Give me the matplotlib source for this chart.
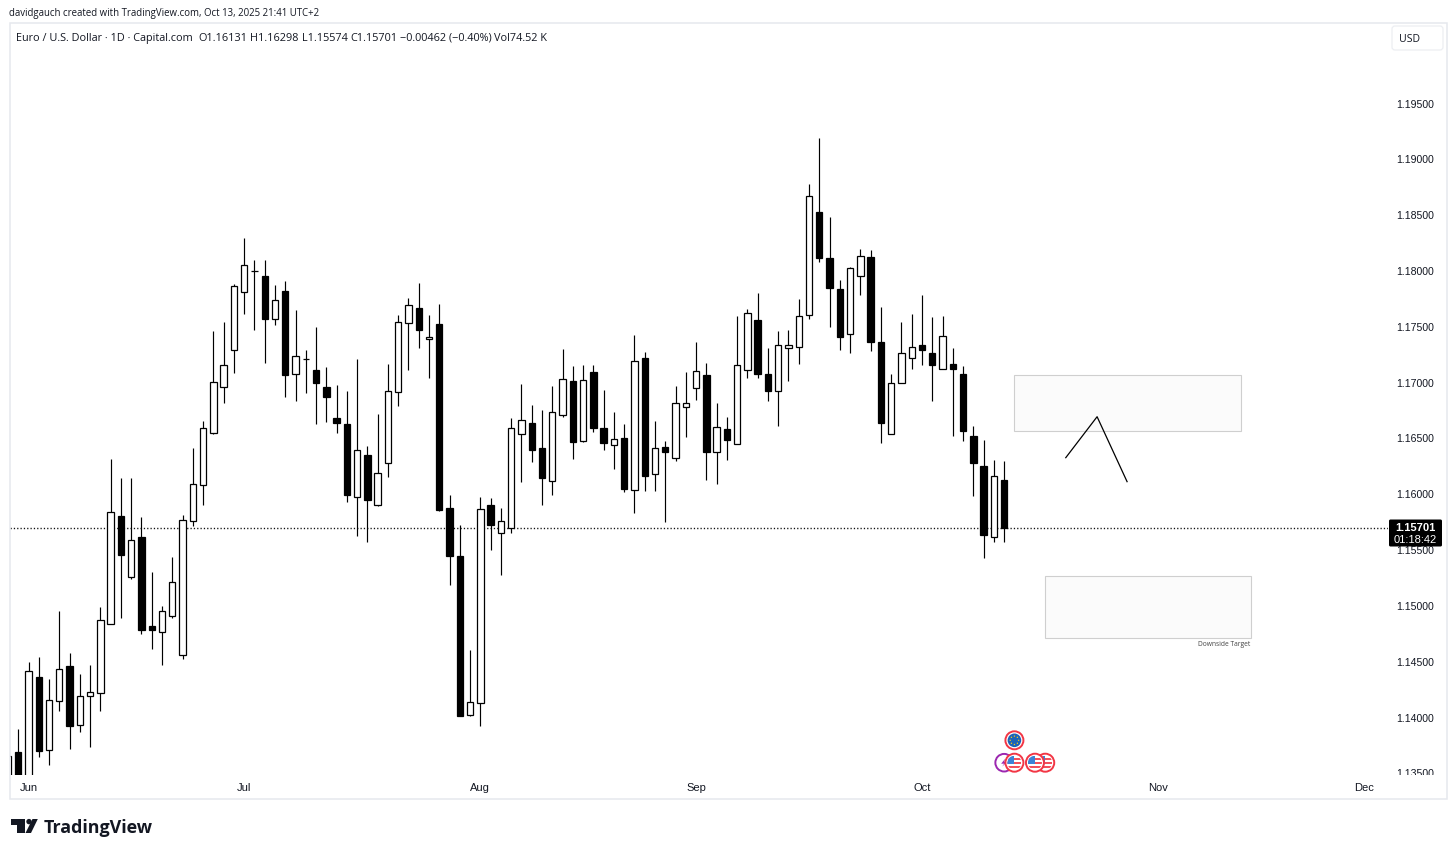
import math
import matplotlib
matplotlib.use("Agg")
import matplotlib.pyplot as plt
from matplotlib.patches import Rectangle, Circle, Polygon, FancyBboxPatch
from matplotlib.transforms import IdentityTransform, Bbox, Affine2D

W, H = 1456, 854
first_bar = -2
opens = [1.13355,1.13693,1.13355,1.14365,1.13707,1.14146,1.1446,1.13931,1.14195,1.14224,
 1.1484,1.1581,1.15264,1.15619,1.14818,1.14768,1.14912,1.14562,1.15759,1.16085,
 1.16548,1.16963,1.17291,1.17817,1.18003,1.17954,1.17573,1.1782,1.17083,1.17214,
 1.17118,1.16966,1.16688,1.16632,1.15974,1.16351,1.15906,1.16282,1.16915,1.17537,
 1.17668,1.17393,1.17531,1.15879,1.15452,1.14021,1.14132,1.15909,1.15655,1.157,
 1.16542,1.16637,1.16413,1.16118,1.16715,1.17014,1.16476,1.171,1.16596,1.16444,
 1.16509,1.1604,1.1722,1.16184,1.16428,1.16325,1.16781,1.16954,1.17071,1.16377,
 1.1659,1.16453,1.17116,1.17564,1.1708,1.1693,1.17309,1.17322,1.17609,1.18531,
 1.18116,1.17841,1.17438,1.17961,1.18129,1.17367,1.16542,1.16996,1.17226,1.1734,
 1.17268,1.17125,1.17172,1.17076,1.16524,1.16256,1.15616,1.16131]
closes = [1.13654,1.13355,1.14415,1.13698,1.14162,1.14437,1.13929,1.14195,1.14233,1.14872,
 1.1584,1.15461,1.15592,1.14789,1.14783,1.14953,1.15216,1.15774,1.16094,1.16596,
 1.17008,1.17163,1.17868,1.18057,1.18,1.17569,1.17746,1.17074,1.17244,1.1721,
 1.17002,1.16874,1.16641,1.15992,1.16399,1.15947,1.16193,1.16928,1.17546,1.17698,
 1.1747,1.17411,1.15864,1.15446,1.14012,1.14137,1.1587,1.15723,1.15759,1.16596,
 1.16664,1.16395,1.16148,1.16739,1.17035,1.16467,1.17026,1.16592,1.16458,1.16494,
 1.16052,1.17196,1.16162,1.16413,1.16377,1.16818,1.1682,1.17107,1.16377,1.16605,
 1.16491,1.17163,1.17626,1.1708,1.1693,1.1734,1.1734,1.17602,1.18675,1.18119,
 1.17847,1.17408,1.1803,1.18137,1.17369,1.16644,1.16996,1.17268,1.17322,1.17298,
 1.1716,1.1742,1.17121,1.16572,1.16285,1.15637,1.16166,1.15701]
highs = [1.13654,1.13902,1.14499,1.14544,1.14347,1.14953,1.1458,1.14395,1.14475,1.14992,
 1.16318,1.16144,1.16151,1.15799,1.15306,1.14998,1.15443,1.15817,1.16417,1.16655,
 1.17462,1.17542,1.17889,1.18298,1.18101,1.18101,1.17877,1.1791,1.17656,1.17295,
 1.17501,1.17145,1.16984,1.16928,1.17214,1.16431,1.16718,1.17172,1.17605,1.17757,
 1.17892,1.17611,1.17707,1.15992,1.15727,1.1461,1.15978,1.15969,1.15879,1.16688,
 1.1699,1.16799,1.1676,1.16972,1.173,1.17152,1.17157,1.17163,1.16937,1.16742,
 1.16632,1.17432,1.17277,1.16655,1.1648,1.16972,1.17094,1.17367,1.17178,1.1682,
 1.16695,1.17596,1.17665,1.17806,1.17309,1.17462,1.17477,1.17748,1.18785,1.19194,
 1.18483,1.17922,1.18035,1.18203,1.18189,1.17677,1.1708,1.17548,1.1762,1.17788,
 1.17591,1.17596,1.17309,1.17148,1.16614,1.16488,1.16312,1.16298]
lows = [1.13355,1.133,1.133,1.13648,1.13576,1.14057,1.1372,1.13872,1.13734,1.14057,
 1.1484,1.1489,1.15243,1.1475,1.14612,1.14469,1.14894,1.14526,1.15721,1.15906,
 1.16539,1.16816,1.17089,1.17614,1.1747,1.17175,1.17519,1.1687,1.16834,1.16906,
 1.16635,1.1665,1.16548,1.15929,1.15628,1.15571,1.15894,1.16153,1.16793,1.17112,
 1.17313,1.1704,1.15849,1.15192,1.14012,1.14012,1.13922,1.15499,1.15282,1.15655,
 1.16115,1.16288,1.15909,1.15996,1.16691,1.16315,1.1647,1.16563,1.16395,1.16225,
 1.16019,1.15834,1.16034,1.16028,1.1575,1.16297,1.16512,1.16843,1.1613,1.16091,
 1.16306,1.16453,1.1704,1.1704,1.16834,1.1661,1.17017,1.17166,1.17575,1.18086,
 1.17504,1.17295,1.17264,1.1779,1.17289,1.16458,1.16542,1.16996,1.17127,1.1716,
 1.16841,1.17125,1.16521,1.16482,1.15987,1.15428,1.15571,1.15574]

price_ticks = [1.135,1.14,1.145,1.15,1.155,1.16,1.165,1.17,1.175,1.18,1.185,1.19,1.195]
month_ticks = [0,21,44,65,87,110,130]
month_labels = ["Jun","Jul","Aug","Sep","Oct","Nov","Dec"]
last_price = 1.15701
countdown = "01:18:42"
attribution = "davidgauch created with TradingView.com, Oct 13, 2025 21:41 UTC+2"
legend_parts = ["Euro / U.S. Dollar · 1D · Capital.com","O1.16131","H1.16298","L1.15574","C1.15701","−0.00462 (−0.40%)","Vol74.52 K"]
legend_left = [16,198,250,302,350,400,494]
zones = [(96,118.06,1.16572,1.17073),(99,119.04,1.14717,1.15272)]
zone_note = "Downside Target"
path_x = [101.0,104.05,106.97]
path_y = [1.1633,1.16697,1.16115]
event_bars = [(96,"eu",1),(95,"bolt",0),(99,"us",0),(98,"us",0),(96,"us",0)]

TXT = "#131722"
BORDER = "#e6e8ee"
plt.rcParams['font.family'] = ['Liberation Sans','DejaVu Sans']
fig = plt.figure(figsize=(W/100,H/100),dpi=100,facecolor="white")
L,R,T,B = 10,1388,25,775.5
ax = fig.add_axes([L/W,1-B/H,(R-L)/W,(B-T)/H])
ax.set_xlim((L-28.5)/10.27,(R-28.5)/10.27)
ax.set_ylim(1.19-(B-160.7)/11160,1.19+(160.7-T)/11160)
ax.patch.set_alpha(0)
for s in ax.spines.values():
    s.set_visible(False)

xs = list(range(first_bar,first_bar+len(opens)))
ax.vlines(xs,lows,highs,color="black",lw=0.85,zorder=2)
for x,o,c in zip(xs,opens,closes):
    up = c>=o
    ax.bar(x,abs(c-o),bottom=min(o,c),width=0.62,facecolor="white" if up else "black",
           edgecolor="black",lw=0.9,zorder=3)

for x0,x1,y0,y1 in zones:
    ax.add_patch(Rectangle((x0,y0),x1-x0,y1-y0,facecolor="#fbfbfb",edgecolor="#cfcfcf",lw=0.8,zorder=1))
ax.text(zones[1][1]-0.1,zones[1][2]-0.0002,zone_note,fontsize=4.75,color="#444444",ha="right",va="top",family=["Open Sans"])
ax.plot(path_x,path_y,color="black",lw=0.9,zorder=4)
ax.axhline(last_price,color="#111111",lw=1.0,ls=(0,(0.9,1.5)),zorder=1)

ax.yaxis.tick_right()
ax.set_yticks(price_ticks)
ax.set_yticklabels([f"{p:.5f}" for p in price_ticks],fontsize=7.6,color=TXT)
ax.tick_params(axis="y",length=0,pad=6)
clip = Bbox([[L,H-B-0.5],[W,H-T]])
for lab in ax.get_yticklabels():
    lab.set_clip_on(True)
    lab.set_clip_box(clip)
    lab.set_transform(lab.get_transform() + Affine2D().translate(0,1.2))
ax.set_xticks(month_ticks)
ax.set_xticklabels(month_labels,fontsize=8,color=TXT)
ax.tick_params(axis="x",length=0,pad=5.7)

def px(x,y):
    return x,H-y
idt = IdentityTransform()

fig.add_artist(Rectangle(px(9.5,800),1437.5,776,facecolor="none",edgecolor=BORDER,lw=1.1,transform=idt))
fig.text(9/W,1-13.3/H,attribution,fontsize=6.95,color=TXT,ha="left",va="center",family=["Open Sans"])
for part,left in zip(legend_parts,legend_left):
    fig.text(left/W,1-38.3/H,part,fontsize=7.8,color=TXT,ha="left",va="center",family=["Open Sans"])

fig.add_artist(FancyBboxPatch(px(1392,51),51,24,boxstyle="round,pad=0,rounding_size=3",facecolor="white",edgecolor="#eceef2",lw=0.9,transform=idt))
fig.text(1409/W,1-39.8/H,"USD",fontsize=7.6,color=TXT,ha="center",va="center",family=["Open Sans"])

fig.add_artist(FancyBboxPatch(px(1389,547.5),53,27,boxstyle="round,pad=0,rounding_size=1.5",facecolor="black",edgecolor="black",lw=0,transform=idt,zorder=5))
fig.text(1415/W,1-528/H,f"{last_price:.5f}",fontsize=8,fontweight="bold",color="white",ha="center",va="center",zorder=6)
fig.text(1415/W,1-540.5/H,countdown,fontsize=8,color="white",ha="center",va="center",zorder=6)

def circ(cx,cy,r,fc,ec=None,lw=0,z=8):
    fig.add_artist(Circle(px(cx,cy),r,facecolor=fc,edgecolor=ec or fc,lw=lw,transform=idt,zorder=z))
def draw_event(kind,cx,cy,z):
    if kind=="eu":
        circ(cx,cy,9,"white","#f23645",1.4,z)
        circ(cx,cy,6.8,"#1c64b8",None,0,z+0.1)
        for k in range(8):
            a=k*math.pi/4
            circ(cx+4.2*math.cos(a),cy+4.2*math.sin(a),0.7,"#f5c518",None,0,z+0.2)
    elif kind=="bolt":
        circ(cx,cy,8.8,"white","#9c27b0",1.4,z)
        fig.add_artist(Polygon([px(cx+1,cy-4),px(cx-3,cy+1),px(cx,cy+1),px(cx-2,cy+4),px(cx+3,cy-1),px(cx,cy-1)],facecolor="#9c27b0",lw=0,transform=idt,zorder=z+0.1))
    else:
        circ(cx,cy,9,"white","#f23645",1.4,z)
        disc = Circle(px(cx,cy),7,transform=idt)
        for dy,h in ((-4.8,2),(-0.8,2),(3,2)):
            r = Rectangle(px(cx-7,cy+dy+h),14,h,facecolor="#f2505c",lw=0,transform=idt,zorder=z+0.1)
            fig.add_artist(r)
            r.set_clip_path(disc)
        r = Rectangle(px(cx-7,cy+1),7,8,facecolor="#3b82d6",lw=0,transform=idt,zorder=z+0.2)
        fig.add_artist(r)
        r.set_clip_path(disc)

for i,(bar,kind,row) in enumerate(event_bars):
    cx,_ = ax.transData.transform((bar,last_price))
    draw_event(kind,cx,741.3 if row else 763.7,8+i)

# logo
fig.add_artist(Polygon([px(10.7,820),px(25,820),px(25,834),px(17,834),px(17,825.5),px(10.7,825.5)],facecolor=TXT,lw=0,transform=idt))
circ(29,822.6,2.7,TXT,None,0,3)
fig.add_artist(Polygon([px(32.5,820),px(37.8,820),px(31,834),px(25.5,834)],facecolor=TXT,lw=0,transform=idt))
fig.text(44/W,1-828.5/H,"TradingView",fontsize=12.9,color=TXT,ha="left",va="center",family=["Open Sans"],fontweight="bold")

fig.savefig("out.png",dpi=100,facecolor="white")
